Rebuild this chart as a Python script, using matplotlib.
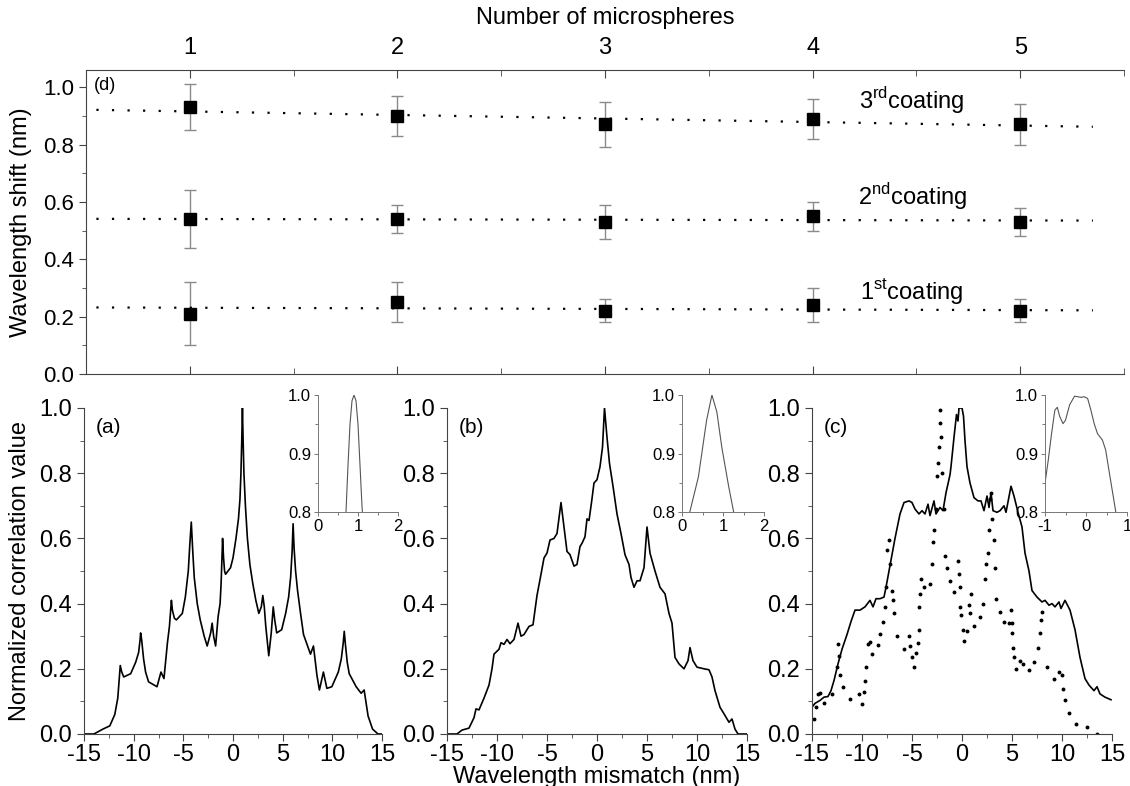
import matplotlib
matplotlib.use("Agg")
import matplotlib.pyplot as plt
from matplotlib.ticker import MultipleLocator

plt.rcParams['font.family'] = ['Liberation Sans', 'DejaVu Sans']

# ---------------- data: panel (d) ----------------
n_spheres = [1, 2, 3, 4, 5]
shift_1st = [0.21, 0.25, 0.22, 0.24, 0.22]
err_1st = [0.11, 0.07, 0.04, 0.06, 0.04]
shift_2nd = [0.54, 0.54, 0.53, 0.55, 0.53]
err_2nd = [0.10, 0.05, 0.06, 0.05, 0.05]
shift_3rd = [0.93, 0.90, 0.87, 0.89, 0.87]
err_3rd = [0.08, 0.07, 0.08, 0.07, 0.07]
fit_x = [0.55, 5.35]
fit_1st = [0.232, 0.222]
fit_2nd = [0.541, 0.535]
fit_3rd = [0.921, 0.862]

# ---------------- data: panel (a) ----------------
a_x = [-15, -14, -13.1, -12.4, -11.9, -11.6, -11.45, -11.35, -11.2, -11.0, -10.3, -9.8, -9.5, -9.35,
       -9.3, -9.2, -9.0, -8.8, -8.5, -7.65, -7.25, -6.95, -6.6, -6.4, -6.25, -6.2, -6.1, -5.9, -5.7,
       -5.1, -4.8, -4.5, -4.35, -4.2, -4.05, -3.9, -3.6, -3.3, -2.9, -2.6, -2.25, -2.1, -1.95, -1.75,
       -1.5, -1.3, -1.2, -1.1, -1.05, -0.95, -0.85, -0.75, -0.25, 0.0, 0.3, 0.55, 0.7, 0.8, 0.88,
       0.95, 1.02, 1.1, 1.25, 1.45, 1.7, 2.0, 2.3, 2.6, 2.85, 3.0, 3.15, 3.3, 3.6, 3.85, 4.05, 4.2,
       4.4, 4.9, 5.3, 5.6, 5.8, 5.95, 6.05, 6.15, 6.3, 6.5, 6.8, 7.1, 7.8, 8.1, 8.45, 8.7, 9.1,
       9.45, 9.95, 10.6, 10.9, 11.1, 11.2, 11.3, 11.5, 11.7, 12.4, 12.9, 13.2, 13.6, 14.05, 14.6, 15]
a_y = [0.0, 0.0, 0.015, 0.025, 0.06, 0.11, 0.17, 0.21, 0.19, 0.175, 0.185, 0.22, 0.25, 0.29,
       0.31, 0.29, 0.23, 0.19, 0.16, 0.145, 0.19, 0.17, 0.28, 0.33, 0.39, 0.41, 0.38, 0.355, 0.35,
       0.37, 0.42, 0.50, 0.58, 0.65, 0.56, 0.48, 0.40, 0.35, 0.30, 0.27, 0.31, 0.34, 0.30, 0.27,
       0.36, 0.40, 0.46, 0.55, 0.60, 0.54, 0.50, 0.49, 0.51, 0.54, 0.60, 0.66, 0.72, 0.80, 0.90,
       1.0, 0.90, 0.80, 0.70, 0.60, 0.52, 0.46, 0.41, 0.37, 0.39, 0.425, 0.39, 0.33, 0.24, 0.31, 0.39, 0.35,
       0.31, 0.32, 0.37, 0.42, 0.48, 0.56, 0.645, 0.57, 0.50, 0.44, 0.37, 0.305, 0.245, 0.27, 0.18, 0.135, 0.19,
       0.14, 0.145, 0.19, 0.23, 0.28, 0.315, 0.28, 0.22, 0.185, 0.145, 0.125, 0.135, 0.055, 0.015, 0.0, 0.0]

# ---------------- data: panel (b) ----------------
b_x = [-15, -14, -13.5, -12.8, -12.3, -12.1, -11.8, -11.3, -10.8, -10.5, -10.3, -9.8, -9.6, -9.3,
       -9.0, -8.7, -8.3, -7.9, -7.6, -7.3, -6.8, -6.4, -6.0, -5.6, -5.3, -5.0, -4.7, -4.3, -4.0,
       -3.6, -3.3, -3.0, -2.7, -2.3, -2.0, -1.7, -1.5, -1.2, -1.0, -0.8, -0.55, -0.3, 0.0, 0.3,
       0.55, 0.75, 1.0, 1.25, 1.6, 2.0, 2.4, 2.8, 3.2, 3.4, 3.7, 4.0, 4.3, 4.7, 5.0, 5.3, 5.8,
       6.3, 6.8, 7.2, 7.5, 7.8, 8.2, 8.7, 9.1, 9.3, 9.6, 10.0, 10.7, 11.2, 11.5, 11.8, 12.3, 12.7,
       13.2, 13.5, 13.8, 14.1, 15]
b_y = [0.0, 0.0, 0.012, 0.018, 0.05, 0.077, 0.074, 0.11, 0.15, 0.2, 0.245, 0.26, 0.28, 0.275,
       0.29, 0.277, 0.29, 0.34, 0.30, 0.305, 0.33, 0.335, 0.425, 0.49, 0.54, 0.555, 0.595, 0.60, 0.615,
       0.71, 0.635, 0.56, 0.55, 0.515, 0.52, 0.575, 0.585, 0.605, 0.66, 0.655, 0.71, 0.77, 0.78, 0.82,
       0.88, 1.0, 0.91, 0.83, 0.76, 0.675, 0.615, 0.55, 0.52, 0.48, 0.45, 0.47, 0.47, 0.51, 0.635, 0.555, 0.50,
       0.45, 0.43, 0.37, 0.34, 0.235, 0.215, 0.20, 0.225, 0.265, 0.225, 0.205, 0.20, 0.197, 0.175, 0.133, 0.082, 0.062,
       0.036, 0.046, 0.015, 0.0, 0.0]

# ---------------- data: panel (c) ----------------
c_x = [-15, -14.7, -14.2, -13.8, -13.4, -13.1, -12.8, -12.4, -12.0, -11.5, -11.1, -10.7, -10.2, -9.7,
       -9.2, -8.9, -8.6, -8.2, -7.8, -7.6, -7.3, -7.0, -6.7, -6.2, -5.8, -5.3, -5.0, -4.7, -4.3, -4.0,
       -3.7, -3.4, -3.2, -2.8, -2.6, -2.2, -1.9, -1.6, -1.2, -1.1, -0.8, -0.55, -0.4, -0.3, 0.0, 0.15,
       0.3, 0.5, 0.8, 1.2, 1.6, 1.9, 2.2, 2.5, 2.7, 2.9, 3.1, 3.5, 3.8, 4.2, 4.4, 4.9, 5.2, 5.6, 6.0,
       6.3, 6.7, 7.0, 7.5, 8.0, 8.3, 8.7, 9.0, 9.3, 9.7, 9.9, 10.3, 10.8, 11.3, 11.8, 12.3, 12.7, 13.2,
       13.5, 13.8, 14.3, 14.9]
c_y = [0.082, 0.094, 0.103, 0.113, 0.115, 0.133, 0.164, 0.215, 0.26, 0.305, 0.345, 0.38, 0.38, 0.39,
       0.41, 0.39, 0.415, 0.415, 0.42, 0.45, 0.50, 0.55, 0.60, 0.675, 0.71, 0.715, 0.71, 0.69, 0.675, 0.685,
       0.675, 0.705, 0.67, 0.715, 0.675, 0.695, 0.685, 0.74, 0.795, 0.82, 0.91, 0.98, 0.96, 1.0, 1.0, 0.975,
       0.90, 0.82, 0.77, 0.725, 0.715, 0.715, 0.685, 0.73, 0.695, 0.74, 0.685, 0.68, 0.685, 0.70, 0.68, 0.76, 0.73, 0.68, 0.635,
       0.555, 0.50, 0.44, 0.42, 0.405, 0.41, 0.395, 0.40, 0.39, 0.405, 0.385, 0.41, 0.38, 0.32, 0.235, 0.17, 0.15, 0.133,
       0.145, 0.123, 0.113, 0.105]
cd_x = [-14.8, -14.6, -14.4, -14.2, -13.8, -13.0, -12.5, -12.4, -12.3, -12.2, -11.9, -11.2, -10.3, -10.0,
        -9.8, -9.7, -9.6, -9.4, -9.2, -9.0, -8.4, -8.2, -7.9, -7.7, -7.6, -7.5, -7.3, -7.2, -7.0, -6.9,
        -6.8, -6.5, -5.8, -5.3, -5.2, -5.0, -4.8, -4.6, -4.4, -4.35, -4.3, -4.2, -4.1, -3.8, -3.2, -3.0,
        -2.9, -2.8, -2.6, -2.5, -2.4, -2.3, -2.25, -2.2, -2.1, -2.0, -1.8, -1.7, -1.5, -1.2, -0.8, -0.45,
        -0.35, -0.25, -0.2, -0.1, 0.05, 0.2, 0.5, 0.7, 0.75, 0.9, 1.2, 1.8, 2.1, 2.3, 2.4, 2.6, 2.7,
        2.8, 2.9, 3.0, 3.2, 3.3, 3.4, 3.8, 4.2, 4.7, 4.9, 4.95, 5.0, 5.1, 5.2, 5.4, 5.8, 6.1, 6.7, 7.2,
        7.6, 7.8, 7.9, 7.95, 8.5, 9.2, 9.7, 10.0, 10.1, 10.3, 10.7, 11.4, 12.5, 13.5]
cd_y = [0.046, 0.082, 0.123, 0.125, 0.094, 0.123, 0.205, 0.277, 0.24, 0.18, 0.144, 0.108, 0.123, 0.092,
        0.128, 0.164, 0.205, 0.277, 0.282, 0.246, 0.272, 0.308, 0.344, 0.39, 0.45, 0.565, 0.595, 0.52, 0.44, 0.41,
        0.37, 0.30, 0.26, 0.30, 0.27, 0.235, 0.205, 0.25, 0.28, 0.318, 0.39, 0.43, 0.475, 0.45, 0.46, 0.52,
        0.59, 0.625, 0.69, 0.79, 0.83, 0.88, 0.955, 0.995, 0.91, 0.80, 0.69, 0.545, 0.51, 0.47, 0.435, 0.53,
        0.49, 0.45, 0.39, 0.365, 0.32, 0.285, 0.315, 0.395, 0.37, 0.43, 0.33, 0.36, 0.40, 0.475, 0.52, 0.555, 0.625,
        0.72, 0.74, 0.66, 0.595, 0.51, 0.415, 0.375, 0.345, 0.34, 0.38, 0.34, 0.31, 0.265, 0.235, 0.20, 0.225, 0.215, 0.195, 0.22,
        0.265, 0.31, 0.35, 0.375, 0.205, 0.17, 0.19, 0.18, 0.138, 0.103, 0.064, 0.031, 0.023, 0.0]

# ---------------- data: insets ----------------
ia_x = [0.65, 0.7, 0.75, 0.8, 0.85, 0.9, 0.95, 1.0, 1.05, 1.1, 1.15]
ia_y = [0.75, 0.80, 0.88, 0.95, 0.99, 1.0, 0.99, 0.95, 0.88, 0.81, 0.76]
ib_x = [0.1, 0.19, 0.4, 0.6, 0.73, 0.85, 0.97, 1.14, 1.26, 1.35]
ib_y = [0.77, 0.80, 0.86, 0.957, 1.0, 0.971, 0.911, 0.843, 0.80, 0.77]
ic_x = [-1.0, -0.92, -0.84, -0.76, -0.70, -0.64, -0.56, -0.5, -0.4, -0.28, -0.2, -0.12, -0.04, 0.04,
        0.12, 0.2, 0.28, 0.4, 0.48, 0.56, 0.68, 0.76, 0.85]
ic_y = [0.849, 0.889, 0.934, 0.974, 0.979, 0.963, 0.951, 0.957, 0.983, 0.998, 0.997, 0.996, 0.997, 0.994,
        0.974, 0.951, 0.934, 0.923, 0.906, 0.871, 0.82, 0.786, 0.75]

W, H = 1130, 786
fig = plt.figure(figsize=(W / 100, H / 100), dpi=100)

def fr(l, r, t, b):
    return [l / W, (H - b) / H, (r - l) / W, (b - t) / H]

spine_c = '#444444'
FS = 15
narrow = ['Liberation Sans Narrow', 'Liberation Sans']

# ---------------- top panel (d) ----------------
axd = fig.add_axes(fr(86, 1124, 70, 374))
axd.set_xlim(0.5, 5.5)
axd.set_ylim(0, 1.06)
for ys, es in [(shift_1st, err_1st), (shift_2nd, err_2nd), (shift_3rd, err_3rd)]:
    axd.errorbar(n_spheres, ys, yerr=es, fmt='none', ecolor='#8a8a8a', elinewidth=1.0,
                 capsize=4, capthick=1.0, zorder=2)
for fy in [fit_1st, fit_2nd, fit_3rd]:
    axd.plot(fit_x, fy, color='black', lw=1.6, linestyle=(0, (1, 6)), zorder=3)
for ys in [shift_1st, shift_2nd, shift_3rd]:
    axd.plot(n_spheres, ys, 's', color='black', markersize=8, zorder=4)
axd.spines['right'].set_visible(False)
for s in ['left', 'top', 'bottom']:
    axd.spines[s].set_color(spine_c)
axd.xaxis.set_major_locator(MultipleLocator(1))
axd.xaxis.set_minor_locator(MultipleLocator(0.5))
axd.set_yticks([0, 0.2, 0.4, 0.6, 0.8, 1.0])
axd.set_yticklabels(['0.0', '0.2', '0.4', '0.6', '0.8', '1.0'])
axd.yaxis.set_minor_locator(MultipleLocator(0.1))
axd.set_ylim(0, 1.06)
axd.tick_params(axis='x', which='both', top=True, bottom=True, labeltop=True, labelbottom=False,
                direction='in', colors=spine_c, labelcolor='black')
axd.tick_params(axis='x', which='major', length=6, labelsize=FS + 2, pad=8)
axd.tick_params(axis='x', which='minor', length=4)
axd.tick_params(axis='y', which='both', direction='out', colors=spine_c, labelcolor='black')
axd.tick_params(axis='y', which='major', length=5, labelsize=FS + 1)
axd.tick_params(axis='y', which='minor', length=3)
for lab in axd.get_xticklabels():
    lab.set_family(narrow)
axd.xaxis.set_label_position('top')
axd.set_xlabel('Number of microspheres', fontsize=FS + 2, labelpad=9, family=narrow)
axd.set_ylabel('Wavelength shift (nm)', fontsize=FS + 2, labelpad=8)
axd.text(0.54, 1.035, '(d)', fontsize=13, va='top', ha='left', family=narrow)
axd.text(4.48, 0.955, '3$^{\\mathregular{rd}}$coating', fontsize=FS + 2, ha='center', va='center', family=narrow)
axd.text(4.48, 0.617, '2$^{\\mathregular{nd}}$coating', fontsize=FS + 2, ha='center', va='center', family=narrow)
axd.text(4.48, 0.29, '1$^{\\mathregular{st}}$coating', fontsize=FS + 2, ha='center', va='center', family=narrow)

# ---------------- bottom panels ----------------
def style_main(ax, label):
    ax.set_xlim(-15, 15)
    ax.set_ylim(0, 1.0)
    ax.spines['right'].set_visible(False)
    ax.spines['top'].set_visible(False)
    for s in ['left', 'bottom']:
        ax.spines[s].set_color(spine_c)
    ax.set_yticks([0, 0.2, 0.4, 0.6, 0.8, 1.0])
    ax.set_yticklabels(['0.0', '0.2', '0.4', '0.6', '0.8', '1.0'])
    ax.set_xticks([-15, -10, -5, 0, 5, 10, 15])
    ax.set_xticklabels(['-15', '-10', '-5', '0', '5', '10', '15'])
    ax.xaxis.set_minor_locator(MultipleLocator(2.5))
    ax.yaxis.set_minor_locator(MultipleLocator(0.1))
    ax.tick_params(which='both', direction='out', colors=spine_c, labelcolor='black')
    ax.tick_params(which='major', length=5, labelsize=FS + 2)
    ax.tick_params(axis='x', which='major', pad=2)
    ax.tick_params(which='minor', length=3)
    ax.set_xlim(-15, 15)
    ax.set_ylim(0, 1.0)
    ax.text(-13.8, 0.97, label, fontsize=FS, va='top', ha='left')

def style_inset(ax, xlim, xticks):
    ax.patch.set_alpha(0)
    ax.spines['right'].set_visible(False)
    ax.spines['top'].set_visible(False)
    for s in ['left', 'bottom']:
        ax.spines[s].set_color('#777777')
        ax.spines[s].set_linewidth(0.7)
    ax.set_xticks(xticks)
    ax.set_xticklabels([str(t) for t in xticks])
    ax.set_yticks([0.8, 0.9, 1.0])
    ax.set_yticklabels(['0.8', '0.9', '1.0'])
    ax.xaxis.set_minor_locator(MultipleLocator(0.5))
    ax.yaxis.set_minor_locator(MultipleLocator(0.05))
    ax.set_xlim(*xlim)
    ax.set_ylim(0.8, 1.0)
    ax.tick_params(which='both', direction='out', colors='#777777', labelcolor='black',
                   labelsize=12, width=0.7, pad=2)
    ax.tick_params(which='major', length=3)
    ax.tick_params(which='minor', length=2)

axa = fig.add_axes(fr(84, 382, 408, 734))
axa.plot(a_x, a_y, color='black', lw=1.2)
style_main(axa, '(a)')
axa.set_ylabel('Normalized correlation value', fontsize=FS + 2, labelpad=6)

axb = fig.add_axes(fr(447, 747, 408, 734))
axb.plot(b_x, b_y, color='black', lw=1.2)
style_main(axb, '(b)')
axb.set_xlabel('Wavelength mismatch (nm)', fontsize=FS + 2, labelpad=0)

axc = fig.add_axes(fr(812, 1112, 408, 734))
axc.plot(c_x, c_y, color='black', lw=1.2)
axc.plot(cd_x, cd_y, 'o', color='black', markersize=1.8, linestyle='none')
style_main(axc, '(c)')

ia = fig.add_axes(fr(318, 398, 395, 512))
ia.plot(ia_x, ia_y, color='#555555', lw=0.8)
style_inset(ia, (0, 2), [0, 1, 2])

ib = fig.add_axes(fr(682, 764, 395, 512))
ib.plot(ib_x, ib_y, color='#555555', lw=0.8)
style_inset(ib, (0, 2), [0, 1, 2])

ic = fig.add_axes(fr(1045, 1127, 395, 512))
ic.plot(ic_x, ic_y, color='#555555', lw=0.8)
style_inset(ic, (-1, 1), [-1, 0, 1])

fig.savefig('out.png', dpi=100)
